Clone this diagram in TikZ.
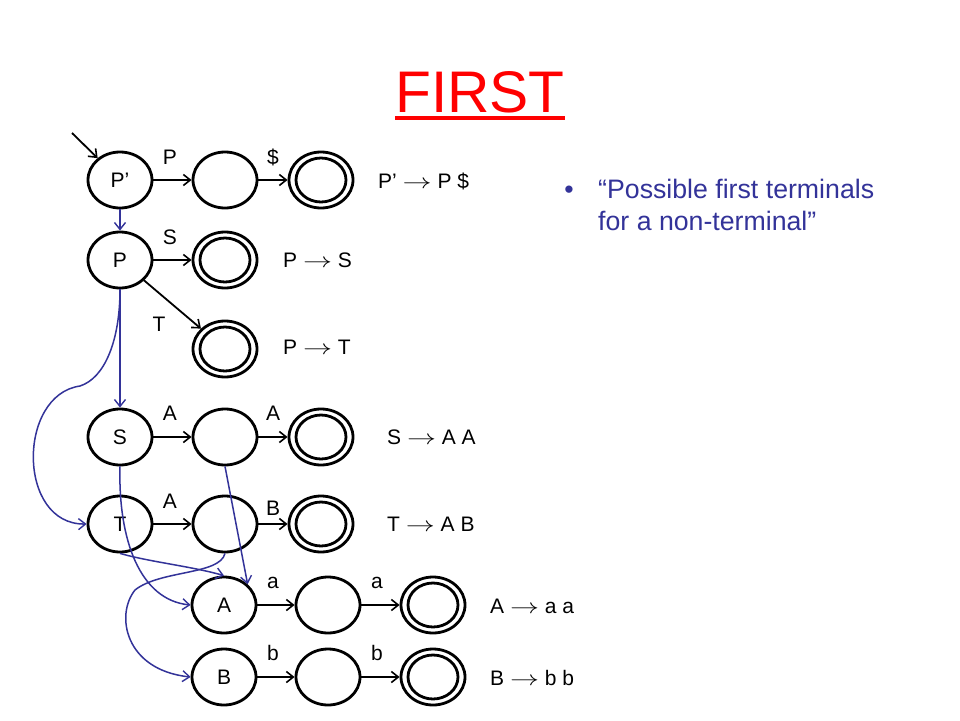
\documentclass[tikz,border=0pt]{standalone}
\usepackage{fontspec}
\usepackage{graphicx}
\setmainfont{Liberation Sans}
\usetikzlibrary{arrows.meta,shapes.geometric}
\definecolor{slideblue}{RGB}{51,51,153}
\definecolor{slidered}{RGB}{255,0,0}
\newcommand{\prodarrow}{\scalebox{1.4}[1]{$\rightarrow$}}
\begin{document}
\begin{tikzpicture}[x=1pt,y=-1pt,
  st/.style={ellipse, draw, line width=2.8pt, minimum width=64pt, minimum height=56pt, inner sep=0pt, font=\fontsize{21}{25}\selectfont},
  lbl/.style={anchor=base, inner sep=0pt, font=\fontsize{21}{25}\selectfont},
  prod/.style={anchor=base west, inner sep=0pt, font=\fontsize{21}{25}\selectfont},
  blk/.style={line width=1.8pt, -{Straight Barb[length=7pt,width=11pt,line width=1.6pt]}},
  blu/.style={draw=slideblue, line width=1.5pt, -{Straight Barb[length=7pt,width=11pt,line width=1.4pt]}},
  inner/.style={line width=2.8pt}
]
\useasboundingbox[fill=white] (0,0) rectangle (960,720);

% title
\node[anchor=base, inner sep=0pt, text=slidered, font=\fontsize{58.7}{64}\selectfont] (title) at (480,112) {FIRST};
\draw[slidered, line width=3.5pt] ([yshift=-6pt]title.base west) -- ([yshift=-6pt]title.base east);

% bullet text
\node[anchor=base, inner sep=0pt, text=slideblue, font=\fontsize{26.7}{32}\selectfont] (bul) at (569,198) {•};
\node[anchor=base west, inner sep=0pt, text=slideblue, font=\fontsize{26.7}{32}\selectfont] (t1) at (598,198) {“Possible first terminals};
\node[anchor=base west, inner sep=0pt, text=slideblue, font=\fontsize{26.7}{32}\selectfont] (t2) at (598,230) {for a non-terminal”};

% states
\node[st] (Pp) at (120,180) {P’};
\node[st] (P1) at (225,180) {};
\node[st] (P2) at (321,180) {};
\node[st] (P)  at (120,260) {P};
\node[st] (Pf) at (225,260) {};
\node[st] (Tf) at (225,349) {};
\node[st] (S)  at (120,437) {S};
\node[st] (S1) at (225,437) {};
\node[st] (S2) at (321,437) {};
\node[st] (T)  at (120,524) {T};
\node[st] (T1) at (225,524) {};
\node[st] (T2) at (321,524) {};
\node[st] (A)  at (224,605) {A};
\node[st] (A1) at (328,605) {};
\node[st] (A2) at (433,605) {};
\node[st] (B)  at (224,677) {B};
\node[st] (B1) at (328,677) {};
\node[st] (B2) at (433,677) {};

% inner rings of accepting states
\foreach \n in {P2,Pf,Tf,S2,T2,A2,B2}
  \draw[inner] (\n.center) ellipse [x radius=25pt, y radius=22pt];

% black transitions
\coordinate (init) at (72,133);
\draw[blk] (init) -- (Pp);
\draw[blk] (Pp) -- (P1);
\draw[blk] (P1) -- (P2);
\draw[blk] (P) -- (Pf);
\draw[blk] (P) -- (Tf);
\draw[blk] (S) -- (S1);
\draw[blk] (S1) -- (S2);
\draw[blk] (T) -- (T1);
\draw[blk] (T1) -- (T2);
\draw[blk] (A) -- (A1);
\draw[blk] (A1) -- (A2);
\draw[blk] (B) -- (B1);
\draw[blk] (B1) -- (B2);

% edge labels
\node[lbl] (lP)  at (170,164.5) {P};
\node[lbl] (lD)  at (273,164.5) {\$};
\node[lbl] (lS)  at (170,244.5) {S};
\node[lbl] (lT)  at (159,331.5) {T};
\node[lbl] (lA1) at (170,420.5) {A};
\node[lbl] (lA2) at (273,420.5) {A};
\node[lbl] (lA3) at (170,508.5) {A};
\node[lbl] (lB)  at (273,515.5) {B};
\node[lbl] (la1) at (273,588) {a};
\node[lbl] (la2) at (377,588) {a};
\node[lbl] (lb1) at (273,660.5) {b};
\node[lbl] (lb2) at (377,660.5) {b};

% productions
\node[prod] (r1) at (378,188.5) {P’ \prodarrow{} P \$};
\node[prod] (r2) at (283,267.5) {P \prodarrow{} S};
\node[prod] (r3) at (283,354.5) {P \prodarrow{} T};
\node[prod] (r4) at (387,444.5) {S \prodarrow{} A A};
\node[prod] (r5) at (387,531.5) {T \prodarrow{} A B};
\node[prod] (r6) at (490,613.5) {A \prodarrow{} a a};
\node[prod] (r7) at (490,685.5) {B \prodarrow{} b b};

% blue (epsilon / first) arrows
\draw[blu] (Pp) -- (P);
\draw[blu] (P.south) -- (S.north);
\draw[blu] (P.south) .. controls (120,340) and (105,378) .. (80,386)
   .. controls (17,395) and (17,525) .. (T.west);
\draw[blu] (S.south) .. controls (118,540) and (140,600) .. (A.west);
\draw[blu] (S1.south) -- (A.north east);
\draw[blu] (T.south) .. controls (150,562) and (190,566) .. (A.north);
\draw[blu] (T1.south) .. controls (220,575) and (160,570) .. (135,590)
   .. controls (115,615) and (125,670) .. (B.west);
\end{tikzpicture}
\end{document}
